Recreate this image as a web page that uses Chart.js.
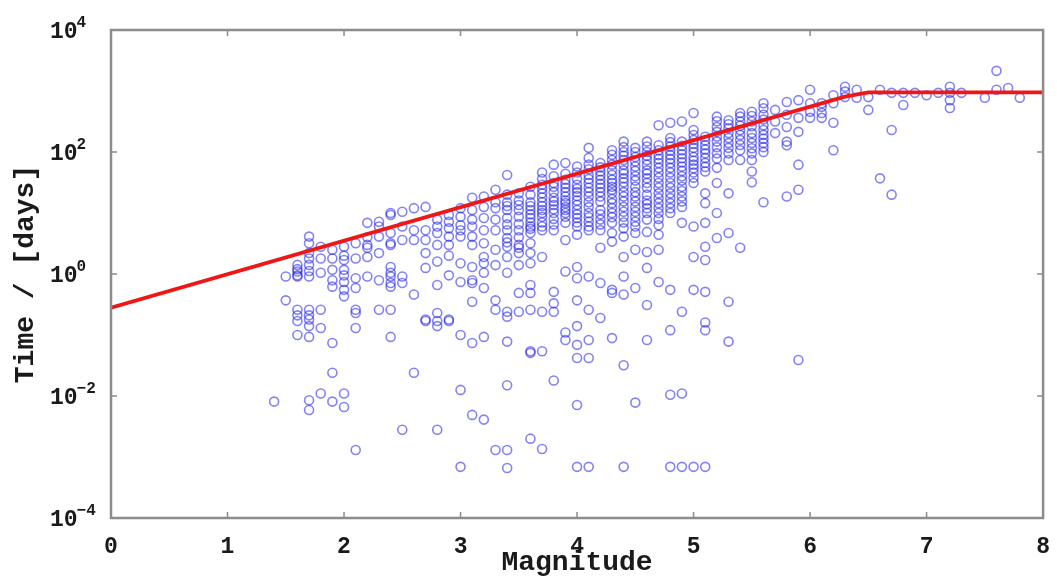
<!DOCTYPE html>
<html>
<head>
<meta charset="utf-8">
<script src="https://cdn.jsdelivr.net/npm/chart.js@4.4.1/dist/chart.umd.min.js"></script>
<style>
  html, body { margin: 0; padding: 0; background: #ffffff; overflow: hidden; }
  canvas { display: block; }
</style>
</head>
<body>
<canvas id="chart" width="1057" height="579"></canvas>
<script>
// Event magnitudes (0.1 bins) and the times, in days, recorded in each bin
const binMagnitude = [
  1.4, 1.5, 1.6, 1.7, 1.8, 1.9, 2.0, 2.1, 2.2, 2.3, 2.4, 2.5, 2.6, 2.7, 2.8, 2.9,
  3.0, 3.1, 3.2, 3.3, 3.4, 3.5, 3.6, 3.7, 3.8, 3.9, 4.0, 4.1, 4.2, 4.3, 4.4, 4.5,
  4.6, 4.7, 4.8, 4.9, 5.0, 5.1, 5.2, 5.3, 5.4, 5.5, 5.6, 5.7, 5.8, 5.9, 6.0, 6.1,
  6.2, 6.3, 6.4, 6.5, 6.6, 6.7, 6.8, 6.9, 7.0, 7.1, 7.2, 7.3, 7.5, 7.6, 7.7, 7.8
];
const binDays = [
  [0.0081],
  [0.91, 0.37],
  [1.41, 1.2, 1.1, 0.95, 0.91, 0.26, 0.21, 0.17, 0.1],
  [4.1, 3.2, 2.2, 1.8, 1.41, 1.12, 0.91, 0.26, 0.21, 0.18, 0.14, 0.093, 0.0085, 0.0059],
  [2.8, 1.8, 1.05, 0.26, 0.13, 0.011],
  [2.5, 1.8, 1.17, 0.79, 0.62, 0.074, 0.024, 0.0081],
  [2.8, 2.0, 1.7, 1.17, 0.95, 0.74, 0.55, 0.43, 0.011, 0.0066],
  [3.2, 1.8, 0.85, 0.59, 0.26, 0.23, 0.13, 0.0013],
  [6.9, 4.0, 3.0, 2.7, 1.9, 0.91],
  [7.2, 6.0, 4.1, 2.2, 0.79, 0.26],
  [10, 9.3, 4.7, 3.2, 3.0, 1.3, 1.05, 0.91, 0.71, 0.62, 0.26, 0.093],
  [10.5, 6.0, 3.6, 0.91, 0.71, 0.0028],
  [12, 5.2, 3.6, 0.46, 0.024],
  [12.6, 5.2, 3.6, 2.2, 1.26, 0.18, 0.17],
  [7.8, 6.0, 4.7, 3.0, 1.6, 0.66, 0.23, 0.17, 0.14, 0.0028],
  [9.3, 7.2, 5.6, 4.1, 3.0, 2.0, 0.95, 0.18, 0.17],
  [12, 8.7, 6.3, 5.2, 4.1, 1.5, 0.74, 0.1, 0.0126, 0.00069],
  [17.8, 11.2, 7.8, 6.0, 4.1, 3.0, 1.3, 0.79, 0.71, 0.35, 0.074, 0.0049],
  [18.6, 12.6, 8.3, 5.2, 3.2, 1.9, 1.5, 1.05, 0.59, 0.093, 0.0041],
  [24, 15, 12, 7.8, 5.2, 2.5, 1.4, 0.37, 0.26, 0.0013],
  [42, 20, 15, 13, 11.2, 8.3, 6.5, 5.2, 3.9, 3.3, 2.8, 1.9, 1.05, 0.24, 0.2, 0.078, 0.015, 0.0013, 0.00066],
  [21, 16, 13.5, 11.2, 8.7, 6.6, 5.2, 4.0, 3.0, 2.7, 2.2, 1.4, 0.49, 0.24],
  [27, 20, 15, 13, 11.2, 9.5, 8.3, 7.0, 6.0, 5.5, 4.7, 3.2, 2.2, 1.5, 0.66, 0.49, 0.26, 0.054, 0.051, 0.002],
  [46, 36, 29, 25, 21, 18, 15, 13, 11.2, 10, 8.7, 7.0, 6.0, 5.2, 1.9, 0.24, 0.054, 0.00135],
  [62, 40, 31, 27, 22, 17.8, 15.5, 13.5, 11.5, 10, 8.0, 6.5, 5.2, 0.51, 0.33, 0.24, 0.018],
  [66, 44, 35, 30, 26, 22, 18.6, 16, 14.5, 12.5, 11.2, 10, 8.7, 6.9, 3.6, 1.1, 0.11, 0.083],
  [58, 46, 36, 29, 25, 22, 19, 16, 13.5, 11.2, 9.5, 8.3, 7.0, 6.0, 4.4, 1.3, 0.85, 0.37, 0.14, 0.069, 0.042, 0.0071, 0.00069],
  [117, 80, 62, 52, 42, 36, 31, 26, 22, 18.6, 15, 12.5, 10, 8.5, 7.2, 6.0, 5.2, 0.91, 0.26, 0.083, 0.042, 0.00069],
  [66, 56, 48, 41, 35, 30, 26, 22, 18.6, 15.5, 11.2, 9.5, 7.8, 6.5, 5.2, 2.7, 0.71, 0.19],
  [107, 90, 74, 62, 50, 42, 35, 31, 27, 24, 21, 17, 14.5, 12, 10, 8.5, 6.9, 4.7, 3.4, 0.55, 0.49, 0.089],
  [148, 120, 100, 87, 74, 62, 50, 44, 37, 32, 27, 22, 18.6, 15.5, 12.6, 10.5, 8.7, 7.0, 5.6, 4.1, 1.9, 0.91, 0.46, 0.032, 0.00069],
  [117, 100, 83, 70, 58, 49, 40, 34, 27, 22, 18.6, 15.5, 12.6, 10.5, 8.7, 7.2, 6.0, 4.7, 2.5, 0.59, 0.0078],
  [148, 123, 100, 87, 74, 62, 50, 44, 37, 31, 26, 20, 16, 14, 12, 10, 7.8, 4.9, 2.3, 1.26, 0.31, 0.083],
  [275, 129, 107, 89, 77, 66, 55, 46, 38, 31, 26, 21, 17.5, 14.5, 12, 10, 8.0, 6.3, 4.4, 2.5, 0.74],
  [302, 170, 145, 123, 105, 89, 77, 66, 55, 46, 38, 31, 26, 21, 17.5, 14.5, 12, 10, 0.55, 0.12, 0.0105, 0.00069],
  [316, 148, 126, 107, 92, 79, 68, 58, 49, 40, 34, 27, 23, 18.6, 15.5, 12.6, 6.9, 0.24, 0.011, 0.00069],
  [437, 229, 190, 158, 135, 117, 100, 83, 72, 62, 54, 46, 38, 31, 6.0, 1.9, 0.55, 0.00069],
  [178, 155, 129, 110, 95, 80, 66, 57, 48, 21, 14.5, 6.9, 2.8, 1.7, 0.51, 0.16, 0.12, 0.00069],
  [380, 320, 257, 214, 180, 148, 120, 95, 78, 55, 31, 10, 3.9],
  [331, 285, 245, 205, 170, 140, 117, 95, 74, 21, 4.7, 0.35, 0.078],
  [437, 380, 316, 270, 229, 190, 158, 130, 107, 74, 2.7],
  [457, 390, 316, 265, 204, 170, 141, 115, 95, 74, 48, 32],
  [631, 520, 407, 340, 275, 230, 191, 165, 141, 120, 100, 15],
  [490, 316, 204],
  [661, 407, 257, 148, 129, 18.6],
  [708, 363, 214, 62, 24, 0.039],
  [1050, 631, 457, 363],
  [631, 550, 437, 363],
  [851, 631, 302, 107],
  [1175, 977, 794],
  [1050, 776],
  [794, 490],
  [1050, 37],
  [933, 229, 20],
  [933, 589],
  [933],
  [851],
  [933],
  [1175, 933, 708, 525],
  [933],
  [776],
  [2138, 1050],
  [1122],
  [776]
];

// Fitted duration curve (days) against magnitude
const modelMagnitude = [0, 6.3, 6.5, 8];
const modelDays = [0.28, 810, 950, 950];

// Axis ticks
const xTicks = [0, 1, 2, 3, 4, 5, 6, 7, 8];
const yTickValues = [1e-4, 1e-2, 1, 1e2, 1e4];
const yTickExponents = ['\u22124', '\u22122', '0', '2', '4'];

const MONO = "'Liberation Mono', 'DejaVu Sans Mono', monospace";

const events = [];
binMagnitude.forEach((m, i) => binDays[i].forEach(d => events.push({ x: m, y: d })));
const model = modelMagnitude.map((m, i) => ({ x: m, y: modelDays[i] }));

// Box frame, inward tick marks and power-of-ten labels
const framePlugin = {
  id: 'frame',
  afterDraw(chart) {
    const { ctx, chartArea: a, scales: { x, y } } = chart;
    ctx.save();
    ctx.strokeStyle = '#8c8c8c';
    ctx.lineWidth = 1.5;
    const t = 6;
    ctx.beginPath();
    xTicks.forEach(v => {
      const px = x.getPixelForValue(v);
      ctx.moveTo(px, a.bottom); ctx.lineTo(px, a.bottom - t);
      ctx.moveTo(px, a.top); ctx.lineTo(px, a.top + t);
    });
    yTickValues.forEach(v => {
      const py = y.getPixelForValue(v);
      ctx.moveTo(a.left, py); ctx.lineTo(a.left + t, py);
      ctx.moveTo(a.right, py); ctx.lineTo(a.right - t, py);
    });
    ctx.stroke();
    ctx.lineWidth = 2.5;
    ctx.strokeRect(a.left, a.top, a.right - a.left, a.bottom - a.top);

    ctx.fillStyle = '#1a1a1a';
    ctx.textAlign = 'left';
    ctx.textBaseline = 'middle';
    yTickValues.forEach((v, i) => {
      const py = y.getPixelForValue(v);
      ctx.font = `bold 23px ${MONO}`;
      ctx.fillText('10', 50, py + 2);
      const w = ctx.measureText('10').width;
      ctx.font = `bold 16px ${MONO}`;
      ctx.fillText(yTickExponents[i], 50 + w - 1, py - 7);
    });
    ctx.restore();
  }
};

new Chart(document.getElementById('chart'), {
  type: 'scatter',
  data: {
    datasets: [
      {
        type: 'line',
        label: 'model',
        data: model,
        borderColor: 'rgb(240, 22, 22)',
        borderWidth: 3.8,
        pointRadius: 0,
        tension: 0,
        order: 0
      },
      {
        label: 'events',
        data: events,
        pointStyle: 'circle',
        pointRadius: 4.5,
        borderWidth: 1.6,
        borderColor: 'rgba(30, 30, 235, 0.55)',
        backgroundColor: 'rgba(0, 0, 0, 0)',
        order: 1
      }
    ]
  },
  options: {
    responsive: false,
    animation: false,
    devicePixelRatio: 1,
    layout: { padding: { top: 30, right: 12, left: 0, bottom: 0 } },
    plugins: { legend: { display: false }, tooltip: { enabled: false } },
    scales: {
      x: {
        type: 'linear',
        min: 0,
        max: 8,
        afterFit: s => { s.height = 61; },
        afterBuildTicks: s => { s.ticks = xTicks.map(v => ({ value: v })); },
        grid: { display: false },
        border: { display: false },
        ticks: {
          padding: 7,
          color: '#1a1a1a',
          font: { family: MONO, size: 23, weight: 'bold' },
          maxRotation: 0
        },
        title: {
          display: true,
          text: 'Magnitude',
          color: '#1a1a1a',
          font: { family: MONO, size: 28, weight: 'bold', lineHeight: 1 },
          padding: { top: 0, bottom: 2 }
        }
      },
      y: {
        type: 'logarithmic',
        min: 1e-4,
        max: 1e4,
        afterFit: s => { s.width = 111; },
        grid: { display: false },
        border: { display: false },
        ticks: { display: false },
        title: {
          display: true,
          text: 'Time / [days]',
          color: '#1a1a1a',
          font: { family: MONO, size: 28, weight: 'bold', lineHeight: 1 },
          padding: { top: 12, bottom: 0 }
        }
      }
    }
  },
  plugins: [framePlugin]
});
</script>
</body>
</html>
